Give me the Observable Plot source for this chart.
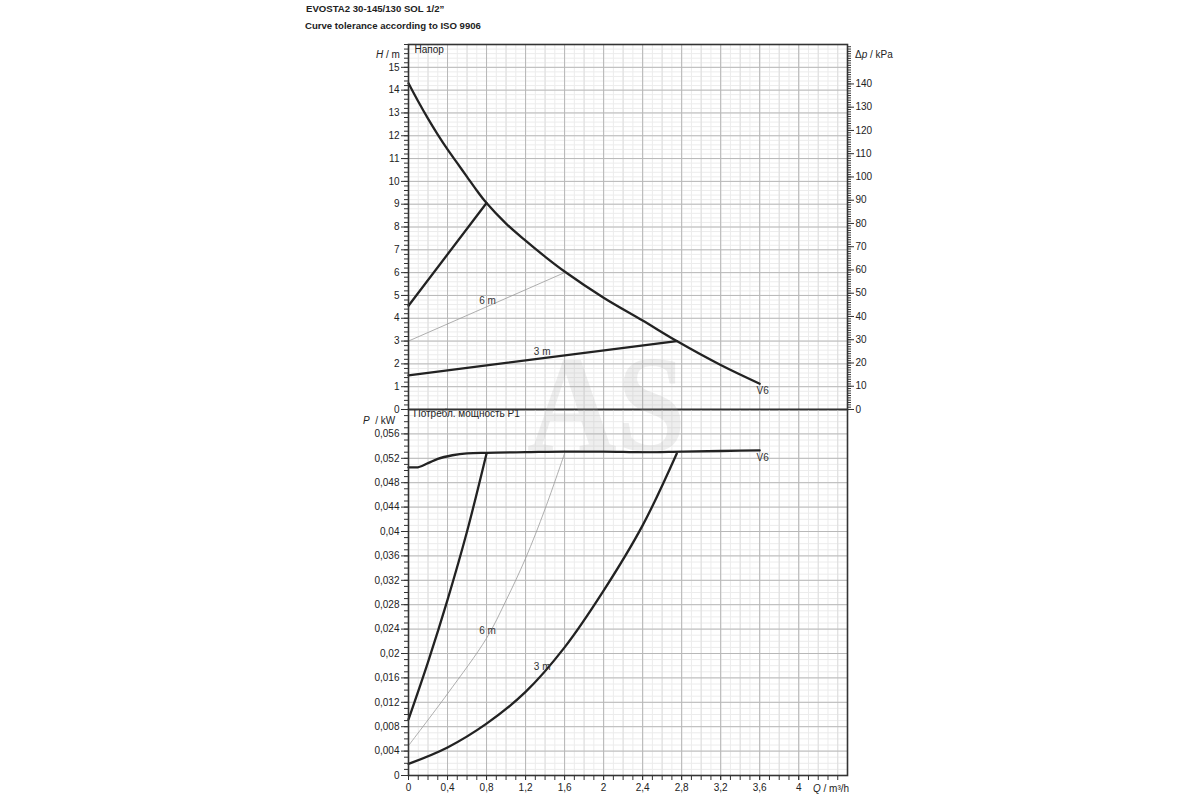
<!DOCTYPE html>
<html>
<head>
<meta charset="utf-8">
<script src="https://cdn.jsdelivr.net/npm/d3@7"></script>
<script src="https://cdn.jsdelivr.net/npm/@observablehq/plot@0.6"></script>
<style>
  body { margin: 0; background: #fff; font-family: "Liberation Sans", Arial, sans-serif; }
  #wrap { position: relative; width: 1200px; height: 800px; overflow: hidden; }
  .abs { position: absolute; white-space: nowrap; font-size: 10px; line-height: 12px; color: #222; }
  .title { font-weight: bold; font-size: 9.6px; }
  #wm { position: absolute; left: 527px; top: 357px; font-family: "Liberation Serif", "DejaVu Serif", serif;
        font-weight: bold; font-size: 138px; line-height: 96px; height: 96px; color: rgba(170,170,170,0.2);
        transform: scaleX(0.9); transform-origin: left top; z-index: 3; pointer-events: none; }
  svg { overflow: visible; }
  .plot { position: absolute; left: 0; }
</style>
</head>
<body>
<div id="wrap">
  <div class="abs title" style="left:306px;top:3px;">EVOSTA2 30-145/130 SOL 1/2”</div>
  <div class="abs title" style="left:305px;top:20px;">Curve tolerance according to ISO 9906</div>
  <div class="abs" style="left:376px;top:48.5px;"><i>H</i> / m</div>
  <div class="abs" style="left:855px;top:49px;">Δ<i>p</i> / kPa</div>
  <div class="abs" style="left:363px;top:414.5px;"><i>P</i>&nbsp; / kW</div>
  <div class="abs" style="left:813px;top:783px;"><i>Q</i> / m³/h</div>
  <div id="top" class="plot" style="top:0px;"></div>
  <div id="bot" class="plot" style="top:409px;"></div>
  <div id="wm">AS</div>
</div>
<script>
// ---------- axes / ticks ----------
const Q_TICKS = [0, 0.4, 0.8, 1.2, 1.6, 2, 2.4, 2.8, 3.2, 3.6, 4];
const H_TICKS = [0, 1, 2, 3, 4, 5, 6, 7, 8, 9, 10, 11, 12, 13, 14, 15];
const KPA_TICKS = [0, 10, 20, 30, 40, 50, 60, 70, 80, 90, 100, 110, 120, 130, 140];
const P_TICKS = [0, 0.004, 0.008, 0.012, 0.016, 0.02, 0.024, 0.028, 0.032, 0.036, 0.04, 0.044, 0.048, 0.052, 0.056];
const KPA_PER_M = 9.81;
const Q_MINOR = d3.range(0, 46).map(i => i / 10);      // every 0.1 m³/h
const Q_MID = d3.range(0, 23).map(i => i / 5);         // every 0.2 m³/h
const H_MINOR = d3.range(0, 81).map(i => i / 5);       // every 0.2 m
const KPA_MINOR = d3.range(0, 157);                    // every 1 kPa
const P_MINOR = d3.range(0, 61).map(i => i / 1000);    // every 0.001 kW

// ---------- head curves (H / m) ----------
const maxQ = [0, 0.1, 0.2, 0.3, 0.4, 0.5, 0.6, 0.7, 0.8, 1.0, 1.2, 1.4, 1.6, 2.0, 2.4, 2.75, 3.2, 3.6];
const maxH = [14.3, 13.5, 12.75, 12.05, 11.4, 10.8, 10.2, 9.6, 9.05, 8.15, 7.4, 6.7, 6.05, 4.9, 3.9, 3.0, 1.95, 1.13];
const ppHighQ = [0, 0.8];
const ppHighH = [4.55, 9.05];
const pp6Q = [0, 1.6];
const pp6H = [3.0, 6.0];
const pp3Q = [0, 2.75];
const pp3H = [1.5, 3.0];

// ---------- power curves (P / kW) ----------
const maxPQ = [0, 0.08, 0.2, 0.3, 0.45, 0.6, 0.8, 1.2, 1.6, 2.0, 2.4, 2.8, 3.2, 3.6];
const maxP = [0.0505, 0.0505, 0.0512, 0.0519, 0.0525, 0.0528, 0.0529, 0.0530, 0.0531, 0.0531, 0.0530, 0.0531, 0.0532, 0.0533];
const pHighQ = [0, 0.2, 0.4, 0.6, 0.8];
const pHigh = [0.0092, 0.0186, 0.0288, 0.0400, 0.0528];
const p6Q = [0, 0.4, 0.8, 1.0, 1.2, 1.4, 1.6];
const p6 = [0.0049, 0.0134, 0.0225, 0.0287, 0.0356, 0.0437, 0.0528];
const p3Q = [0, 0.4, 0.8, 1.2, 1.6, 2.0, 2.4, 2.75];
const p3 = [0.0019, 0.0046, 0.0085, 0.0137, 0.0210, 0.0303, 0.0410, 0.0528];

// ---------- curve labels ----------
const topLabels = [
  {q: 0.81, v: 4.75, t: "6 m", a: "middle"},
  {q: 1.37, v: 2.51, t: "3 m", a: "middle"},
  {q: 3.63, v: 0.8, t: "V6", a: "start"}
];
const botLabels = [
  {q: 0.81, v: 0.0238, t: "6 m", a: "middle"},
  {q: 1.37, v: 0.0178, t: "3 m", a: "middle"},
  {q: 3.63, v: 0.0521, t: "V6", a: "start"}
];

const zip = (xs, ys) => xs.map((x, i) => ({x, y: ys[i]}));
const comma = d => String(d).replace(".", ",");
const style = {fontFamily: "Liberation Sans, Arial, sans-serif", fontSize: "10px", background: "transparent", color: "#222", overflow: "visible"};
const BOLD = {stroke: "#222", strokeWidth: 2.3};
const THIN = {stroke: "#9a9a9a", strokeWidth: 0.8};
const gridMinor = "#ececec", gridMid = "#dedede", gridMajor = "#b8b8b8";

const topPlot = Plot.plot({
  width: 1200, height: 409,
  marginTop: 44, marginBottom: 0, marginLeft: 408, marginRight: 353,
  x: {domain: [0, 4.5], axis: null},
  y: {domain: [0, 16]},
  style,
  marks: [
    Plot.ruleX(Q_MINOR, {stroke: gridMinor}),
    Plot.ruleY(H_MINOR, {stroke: gridMinor}),
    Plot.ruleX(Q_MID, {stroke: gridMid}),
    Plot.ruleX(Q_TICKS, {stroke: gridMajor}),
    Plot.ruleY(H_TICKS, {stroke: gridMajor}),
    Plot.line(zip(pp6Q, pp6H), {x: "x", y: "y", ...THIN}),
    Plot.line(zip(ppHighQ, ppHighH), {x: "x", y: "y", ...BOLD}),
    Plot.line(zip(pp3Q, pp3H), {x: "x", y: "y", ...BOLD}),
    Plot.line(zip(maxQ, maxH), {x: "x", y: "y", curve: "catmull-rom", ...BOLD}),
    Plot.text(topLabels, {x: "q", y: "v", text: "t", textAnchor: "a", fill: "#333", fontSize: 10}),
    Plot.text(["Напор"], {frameAnchor: "top-left", dx: 6, dy: 1, fill: "#222", fontSize: 10}),
    Plot.axisY(H_MINOR, {anchor: "left", tickSize: 4, tickFormat: () => "", label: null, stroke: "#333"}),
    Plot.axisY(H_TICKS, {anchor: "left", tickSize: 7, tickPadding: 2, label: null, stroke: "#333", fill: "#222"}),
    Plot.axisY(KPA_MINOR.map(k => k / KPA_PER_M), {anchor: "right", tickSize: 3, tickFormat: () => "", label: null, stroke: "#333"}),
    Plot.axisY(KPA_TICKS.map(k => k / KPA_PER_M), {anchor: "right", tickSize: 6, tickPadding: 2, label: null, stroke: "#333", fill: "#222",
      tickFormat: d => String(Math.round(d * KPA_PER_M))}),
    Plot.frame({stroke: "#333", strokeWidth: 1.6})
  ]
});
document.getElementById("top").appendChild(topPlot);

const botPlot = Plot.plot({
  width: 1200, height: 391,
  marginTop: 0, marginBottom: 25, marginLeft: 408, marginRight: 353,
  x: {domain: [0, 4.5]},
  y: {domain: [0, 0.06]},
  style,
  marks: [
    Plot.ruleX(Q_MINOR, {stroke: gridMinor}),
    Plot.ruleY(P_MINOR, {stroke: gridMinor}),
    Plot.ruleX(Q_MID, {stroke: gridMid}),
    Plot.ruleX(Q_TICKS, {stroke: gridMajor}),
    Plot.ruleY(P_TICKS, {stroke: gridMajor}),
    Plot.line(zip(p6Q, p6), {x: "x", y: "y", curve: "catmull-rom", ...THIN}),
    Plot.line(zip(pHighQ, pHigh), {x: "x", y: "y", curve: "catmull-rom", ...BOLD}),
    Plot.line(zip(p3Q, p3), {x: "x", y: "y", curve: "catmull-rom", ...BOLD}),
    Plot.line(zip(maxPQ, maxP), {x: "x", y: "y", curve: "monotone-x", ...BOLD}),
    Plot.text(botLabels, {x: "q", y: "v", text: "t", textAnchor: "a", fill: "#333", fontSize: 10}),
    Plot.text(["Потребл. мощность P1"], {frameAnchor: "top-left", dx: 5, dy: 0.5, fill: "#222", fontSize: 10}),
    Plot.axisY(P_MINOR, {anchor: "left", tickSize: 4, tickFormat: () => "", label: null, stroke: "#333"}),
    Plot.axisY(P_TICKS, {anchor: "left", tickSize: 7, tickPadding: 2, label: null, stroke: "#333", fill: "#222", tickFormat: comma}),
    Plot.axisX(Q_MINOR.filter(q => q <= 4.41), {anchor: "bottom", tickSize: 5, tickFormat: () => "", label: null, stroke: "#333"}),
    Plot.axisX(Q_TICKS, {anchor: "bottom", tickSize: 5, tickPadding: 3, label: null, stroke: "#333", fill: "#222", tickFormat: comma}),
    Plot.frame({stroke: "#333", strokeWidth: 1.6})
  ]
});
document.getElementById("bot").appendChild(botPlot);
</script>
</body>
</html>
